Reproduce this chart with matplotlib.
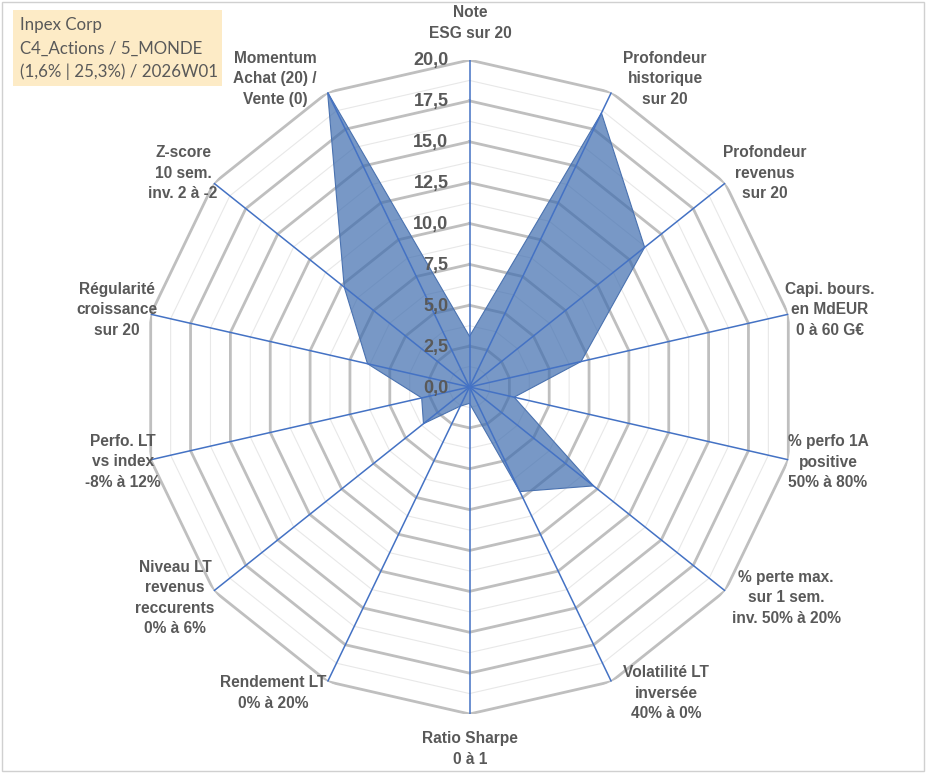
import numpy as np
import matplotlib
matplotlib.use("Agg")
import matplotlib.pyplot as plt
from matplotlib.patches import Rectangle

# --- donnees ---
criteres = [
    "Note\nESG sur 20",
    "Profondeur\nhistorique\nsur 20",
    "Profondeur\nrevenus\nsur 20",
    "Capi. bours.\nen MdEUR\n0 à 60 G€",
    "% perfo 1A\npositive\n50% à 80%",
    "% perte max.\nsur 1 sem.\ninv. 50% à 20%",
    "Volatilité LT\ninversée\n40% à 0%",
    "Ratio Sharpe\n0 à 1",
    "Rendement LT\n0% à 20%",
    "Niveau LT\nrevenus\nreccurents\n0% à 6%",
    "Perfo. LT\nvs index\n-8% à 12%",
    "Régularité\ncroissance\nsur 20",
    "Z-score\n10 sem.\ninv. 2 à -2",
    "Momentum\nAchat (20) /\nVente (0)",
]
scores = [3.1, 18.6, 13.7, 7.0, 2.8, 9.7, 7.1, 1.0, 1.3, 3.6, 3.0, 6.4, 9.8, 20.0]
graduations = [0.0, 2.5, 5.0, 7.5, 10.0, 12.5, 15.0, 17.5, 20.0]
titre = ["Inpex Corp", "C4_Actions / 5_MONDE", "(1,6% | 25,3%) / 2026W01"]

# positions des libelles (pixels, centre du bloc de texte)
pos_libelles = [
    (470, 23), (665, 79), (765, 173), (830, 310), (828, 462), (786, 598),
    (666, 693), (470, 749), (273, 693), (175, 598), (123, 462), (117, 310),
    (183, 173), (275, 79),
]

W, H = 933, 776
GRIS_TXT = "#595959"

fig = plt.figure(figsize=(W / 100, H / 100), dpi=100)
fig.patch.set_facecolor("white")

# cadre du graphique
fig.patches.append(Rectangle((2 / W, 1 - 771 / H), 922 / W, 769 / H,
                             transform=fig.transFigure, fill=False,
                             edgecolor="#D0D0D0", linewidth=1))

cx, cy, R = 469.5, 387, 327
ax = fig.add_axes([(cx - R) / W, (H - cy - R) / H, 2 * R / W, 2 * R / H],
                  projection="polar")
ax.set_theta_offset(np.pi / 2)
ax.set_theta_direction(-1)
ax.set_ylim(0, 20)
ax.set_axis_off()

n = len(criteres)
angles = np.linspace(0, 2 * np.pi, n, endpoint=False)
ang_ferme = np.append(angles, angles[0])

# grille mineure puis majeure (polygones)
for r in np.arange(1.25, 20, 2.5):
    ax.plot(ang_ferme, [r] * (n + 1), color="#E8E8E8", lw=0.8, zorder=1)
for r in graduations[1:]:
    ax.plot(ang_ferme, [r] * (n + 1), color="#BFBFBF", lw=2.0, zorder=1)

# serie
val_ferme = scores + scores[:1]
ax.fill(ang_ferme, val_ferme, color="#3F6DAF", alpha=0.7, lw=0, zorder=2)
ax.plot(ang_ferme, val_ferme, color="#4A72B0", lw=0.8, zorder=2)

# axes radiaux
for a in angles:
    ax.plot([a, a], [0, 20], color="#4472C4", lw=1.1, zorder=3)

# graduations
for v in graduations:
    ax.annotate(f"{v:.1f}".replace(".", ","), xy=(0, v), xytext=(-21, -1),
                textcoords="offset pixels", ha="right", va="center",
                fontsize=13, fontweight="bold", color=GRIS_TXT,
                family="Liberation Sans", zorder=4)

# libelles des criteres
for lab, (x, y) in zip(criteres, pos_libelles):
    fig.text(x / W, 1 - y / H, lab, ha="center", va="center",
             fontsize=11.2, fontweight="bold", color=GRIS_TXT,
             family="Liberation Sans", linespacing=1.42)

# encadre du titre
fig.patches.append(Rectangle((13 / W, 1 - 86 / H), 209 / W, 76 / H,
                             transform=fig.transFigure, facecolor="#FDEBC6",
                             edgecolor="none"))
for i, ligne in enumerate(titre):
    fig.text(20 / W, 1 - (25 + 23.5 * i) / H, ligne, ha="left", va="center",
             fontsize=12.2, color=GRIS_TXT, family="Lato")

fig.savefig("out.png", dpi=100)
